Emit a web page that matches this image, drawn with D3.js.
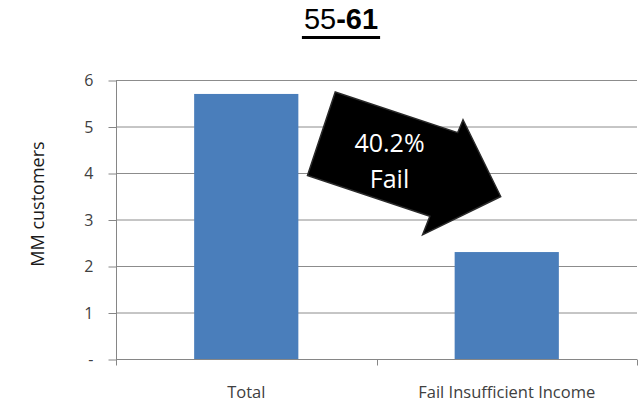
<!DOCTYPE html>
<html>
<head>
<meta charset="utf-8">
<script src="https://cdn.jsdelivr.net/npm/d3@7"></script>
<style>
  body { margin: 0; background: #fff; }
  svg { display: block; font-family: "Open Sans", sans-serif; }
</style>
</head>
<body>
<svg id="chart" width="642" height="403"></svg>
<script>
// chart data
const categories = ["Total", "Fail Insufficient Income"];
const customers = [5.7, 2.3];
const yTicks = [0, 1, 2, 3, 4, 5, 6];
const failShare = "40.2%";

const svg = d3.select("#chart");
const plotLeft = 116, plotRight = 637, plotTop = 80, plotBottom = 359;

let x = d3.scaleBand()
    .domain(categories)
    .range([plotLeft, plotRight])
    .paddingInner(0.6)
    .paddingOuter(0.3);

let y = d3.scaleLinear()
    .domain([0, 6])
    .range([plotBottom, plotTop]);

// gridlines
svg.append("g")
    .selectAll("line")
    .data(yTicks.filter(d => d > 0))
    .enter()
    .append("line")
    .attr("x1", plotLeft)
    .attr("x2", plotRight)
    .attr("y1", d => y(d) + 0.5)
    .attr("y2", d => y(d) + 0.5)
    .style("stroke", "#8c8c8c")
    .style("stroke-width", 1);

// y axis
let yAxis = svg.append("g")
    .attr("transform", `translate(${plotLeft + 0.5},0.5)`)
    .call(d3.axisLeft(y)
        .tickValues(yTicks)
        .tickSize(8)
        .tickPadding(15)
        .tickFormat(d => d === 0 ? "-" : d));
yAxis.select(".domain").attr("d", `M0,${plotTop}V${plotBottom}`).style("stroke", "#868686");
yAxis.selectAll(".tick line").style("stroke", "#868686");
yAxis.selectAll(".tick text")
    .style("font-family", "Open Sans")
    .style("font-size", "16px")
    .style("fill", "#404040");

// bars
svg.append("g")
    .selectAll("rect")
    .data(categories)
    .enter()
    .append("rect")
    .attr("x", d => x(d))
    .attr("width", x.bandwidth())
    .attr("y", (d, i) => y(customers[i]))
    .attr("height", (d, i) => plotBottom - y(customers[i]))
    .style("fill", "#4a7ebb");

// x axis
let xAxis = svg.append("g")
    .attr("transform", `translate(0,${plotBottom + 0.5})`);
xAxis.append("line")
    .attr("x1", plotLeft)
    .attr("x2", plotRight)
    .style("stroke", "#868686");
let bounds = categories.map(c => x(c) - x.step() * x.paddingInner() / 2);
bounds[0] = plotLeft;
bounds.push(plotRight);
xAxis.selectAll(".bound")
    .data(bounds)
    .enter()
    .append("line")
    .attr("x1", d => Math.round(d) + 0.5)
    .attr("x2", d => Math.round(d) + 0.5)
    .attr("y1", 0)
    .attr("y2", 6)
    .style("stroke", "#868686");
xAxis.selectAll("text")
    .data(categories)
    .enter()
    .append("text")
    .attr("x", d => x(d) + x.bandwidth() / 2)
    .attr("y", 38.5)
    .attr("text-anchor", "middle")
    .style("font-size", "16.5px")
    .style("fill", "#404040")
    .text(d => d);

// y axis title
svg.append("text")
    .attr("transform", "translate(44,204) rotate(-90)")
    .attr("text-anchor", "middle")
    .style("font-size", "18px")
    .style("fill", "#1a1a1a")
    .text("MM customers");

// title
let title = svg.append("text")
    .attr("x", 341)
    .attr("y", 29)
    .attr("text-anchor", "middle")
    .style("font-family", "Liberation Sans")
    .style("font-size", "29px")
    .style("fill", "#000");
title.append("tspan").text("55");
title.append("tspan").style("font-weight", "bold").text("-61");
let tb = title.node().getBBox();
svg.append("rect")
    .attr("x", tb.x - 2)
    .attr("y", 36)
    .attr("width", tb.width + 4)
    .attr("height", 3)
    .style("fill", "#000");

// arrow annotation between the bars
let ax = (x(categories[0]) + x.bandwidth() + x(categories[1])) / 2 + 35;
let ay = y(4.2);
let arrow = svg.append("g")
    .attr("transform", `translate(${ax},${ay}) rotate(18.4)`);
let shape = [[-95, -44], [34, -44], [35, -58], [95, 3], [33, 64], [34, 44], [-95, 44]];
arrow.append("path")
    .attr("d", d3.line()(shape) + "Z")
    .style("fill", "#000")
    .style("stroke", "#2a2a2a")
    .style("stroke-width", 1.5)
    .style("stroke-linejoin", "miter");

let label = svg.append("text")
    .attr("text-anchor", "middle")
    .style("font-size", "25px")
    .style("fill", "#fff");
label.append("tspan").attr("x", ax - 22).attr("y", ay - 12).text(failShare);
label.append("tspan").attr("x", ax - 22).attr("y", ay + 24).text("Fail");
</script>
</body>
</html>
